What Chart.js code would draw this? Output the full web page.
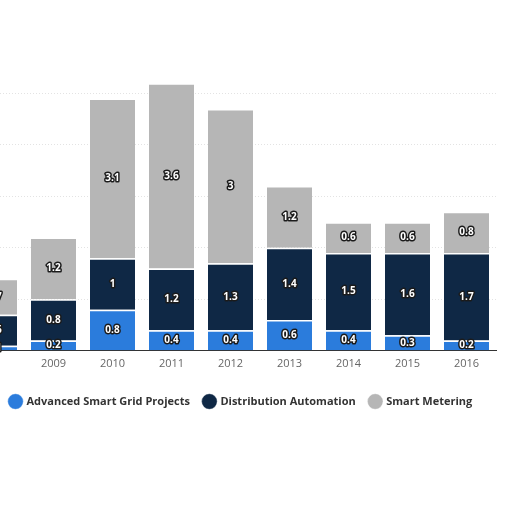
<!DOCTYPE html>
<html>
<head>
<meta charset="utf-8">
<script src="https://cdn.jsdelivr.net/npm/chart.js@4"></script>
<style>
  html, body { margin: 0; padding: 0; background: #fff; }
  #wrap { width: 512px; height: 512px; position: relative; overflow: hidden; }
</style>
</head>
<body>
<div id="wrap"><canvas id="c" width="512" height="512"></canvas></div>
<script>
const years = [2008, 2009, 2010, 2011, 2012, 2013, 2014, 2015, 2016];
const advancedSmartGrid = [0.1, 0.2, 0.8, 0.4, 0.4, 0.6, 0.4, 0.3, 0.2];
const distributionAutomation = [0.6, 0.8, 1, 1.2, 1.3, 1.4, 1.5, 1.6, 1.7];
const smartMetering = [0.7, 1.2, 3.1, 3.6, 3, 1.2, 0.6, 0.6, 0.8];
const seriesNames = ['Advanced Smart Grid Projects', 'Distribution Automation', 'Smart Metering'];

const toPoints = arr => years.map((yr, i) => ({ x: yr, y: arr[i] }));

const segmentLabels = {
  id: 'segmentLabels',
  afterDatasetsDraw(chart) {
    const ctx = chart.ctx;
    ctx.save();
    ctx.font = 'bold 10px "Open Sans", sans-serif';
    ctx.textAlign = 'center';
    ctx.textBaseline = 'middle';
    ctx.lineJoin = 'round';
    chart.data.datasets.forEach((ds, di) => {
      const meta = chart.getDatasetMeta(di);
      meta.data.forEach((bar, i) => {
        const v = ds.data[i].y;
        const txt = String(v);
        const x = bar.x;
        const y = (bar.y + bar.base) / 2;
        ctx.strokeStyle = '#1b1b1b';
        ctx.lineWidth = 3;
        ctx.strokeText(txt, x, y);
        ctx.fillStyle = '#ffffff';
        ctx.fillText(txt, x, y);
      });
    });
    ctx.restore();
  }
};

const common = { borderColor: '#ffffff', borderWidth: { top: 1.5, left: 0, right: 0, bottom: 0 }, borderSkipped: 'start', barPercentage: 0.763, categoryPercentage: 1 };

new Chart(document.getElementById('c'), {
  type: 'bar',
  data: {
    datasets: [
      Object.assign({ label: seriesNames[0], data: toPoints(advancedSmartGrid), backgroundColor: '#2b7cdc' }, common),
      Object.assign({ label: seriesNames[1], data: toPoints(distributionAutomation), backgroundColor: '#0f2845' }, common),
      Object.assign({ label: seriesNames[2], data: toPoints(smartMetering), backgroundColor: '#b6b6b6' }, common)
    ]
  },
  options: {
    responsive: false,
    animation: false,
    layout: { padding: { left: -4, right: 16, top: 42, bottom: 95 } },
    scales: {
      x: {
        type: 'linear',
        stacked: true,
        min: 2008.093,
        max: 2016.5,
        offset: false,
        grid: { display: false, drawTicks: false },
        border: { display: true, color: '#333333', width: 1 },
        ticks: {
          stepSize: 1,
          includeBounds: false,
          autoSkip: false,
          maxRotation: 0,
          padding: 6,
          color: '#666666',
          font: { family: '"Open Sans", sans-serif', size: 11 },
          callback: v => String(v)
        },
        afterFit: s => { s.height += 6; }
      },
      y: {
        stacked: true,
        min: 0,
        max: 6,
        grid: { color: ctx => (ctx.tick && ctx.tick.value === 6) ? 'rgba(0,0,0,0)' : '#e3e3e3', drawTicks: false },
        border: { display: false, dash: [1, 2] },
        ticks: { display: false, stepSize: 1 }
      }
    },
    plugins: {
      tooltip: { enabled: false },
      legend: {
        position: 'bottom',
        align: 'start',
        labels: {
          usePointStyle: true,
          pointStyle: 'circle',
          boxWidth: 11,
          boxHeight: 11,
          padding: 14,
          color: '#333333',
          font: { family: '"Open Sans", sans-serif', size: 11, weight: 'bold' }
        }
      }
    }
  },
  plugins: [segmentLabels]
});
</script>
</body>
</html>
